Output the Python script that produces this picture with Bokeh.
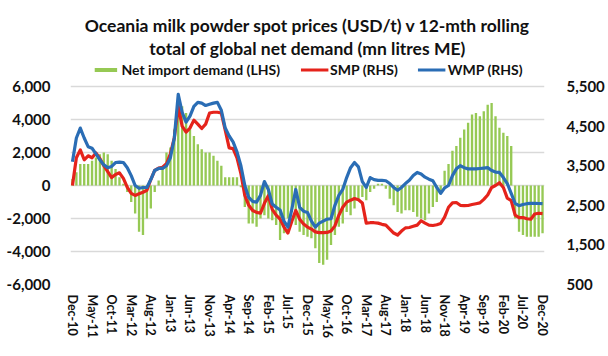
from bokeh.plotting import figure
from bokeh.models import (Range1d, LinearAxis, FixedTicker, NumeralTickFormatter,
                          Legend, LegendItem, Title, ColumnDataSource)
from bokeh.embed import file_html
from bokeh.resources import INLINE

# ---- data (monthly, Dec-10 .. Dec-20) ----
net_import_demand = [
    400, 800, 1300, 1300, 1300, 1500, 1700, 1900, 2000, 1900,
    1500, 1000, 500, 100, -400, -1000, -1700, -2800, -3000, -2000,
    -1400, -400, 300, 1000, 2000, 2300, 3400, 4500, 4800, 4400,
    3400, 3000, 2500, 2200, 2000, 2000, 1800, 1500, 1200, 500,
    500, 500, 500, -100, -1300, -2300, -2300, -2500, -2000, -1800,
    -2000, -2100, -2400, -3300, -2900, -2000, -1600, -2400, -2800, -3000,
    -3100, -3200, -3800, -4700, -4800, -4500, -3600, -3000, -2500, -2300,
    -1600, -1800, -1400, -900, -700, -900, -400, -200, 100, 100,
    -200, -800, -1200, -1600, -1700, -1500, -1500, -1600, -1900, -2000,
    -2100, -1700, -1300, -1000, -500, 900, 1300, 2100, 2400, 2900,
    3400, 3800, 4300, 4400, 4200, 4500, 4900, 5000, 4200, 3500,
    3200, 3000, 2400, -2000, -2800, -3000, -3100, -3100, -3100, -3100,
    -2900,
]
wmp = [
    3600, 4200, 4450, 4200, 3980, 3940, 3800, 3650, 3520, 3450,
    3480, 3580, 3590, 3580, 3450, 3250, 3000, 2930, 2950, 2950,
    3150, 3380, 3430, 3430, 3500, 3700, 4200, 5300, 4850, 4600,
    4750, 5000, 5100, 5080, 5020, 5050, 5080, 5100, 4900, 4450,
    4250, 4100, 3850, 3500, 3000, 2700, 2600, 2580, 2750, 3100,
    2900, 2530, 2450, 2380, 2100, 1950, 2400, 2900, 2450, 2350,
    2320, 2100, 1950, 2050, 2100, 2150, 2160, 2500, 2750, 2900,
    3200, 3450, 3580, 3470, 3100, 2950, 3200, 3150, 3130, 3130,
    3120, 3050, 2950, 2880, 2950, 3050, 3130, 3250, 3330, 3290,
    3210, 3160, 3120, 2950, 2800, 2940, 3000, 3250, 3420, 3500,
    3450, 3420, 3420, 3420, 3430, 3440, 3450, 3380, 3340, 3330,
    3200, 3050, 2800, 2550, 2490, 2520, 2540, 2550, 2550, 2545,
    2540,
]
smp = [
    3000, 3700, 3900, 3650, 3750, 3700, 3820, 3680, 3500, 3350,
    3200, 3280, 3320, 3180, 2950, 2800, 2750, 2790, 2830, 2880,
    3150, 3380, 3440, 3460, 3550, 3800, 4200, 5000, 4500, 4350,
    4450, 4650, 4550, 4440, 4550, 4830, 4850, 4850, 4830, 4400,
    3950, 3930, 3700, 3300, 2750, 2500, 2370, 2320, 2300, 2550,
    2740, 2400, 2250, 2150, 1950, 1800, 2100, 2370, 2150, 2030,
    1950, 1900, 1830, 1810, 1810, 1815, 1850, 1980, 2250, 2450,
    2580, 2630, 2670, 2640, 2560, 2050, 2060, 2060, 2050, 2020,
    2000, 1900, 1800, 1750, 1850, 1930, 1940, 1970, 2000, 2110,
    2050, 2000, 1990, 2010, 2040, 2200, 2450, 2560, 2570, 2500,
    2490, 2495, 2520, 2540, 2560, 2650, 2760, 2950, 3000, 3070,
    2950, 2680, 2620, 2250, 2190, 2190, 2160, 2150, 2280, 2300,
    2290,
]
tick_labels = ["Dec-10", "May-11", "Oct-11", "Mar-12", "Aug-12", "Jan-13", "Jun-13",
               "Nov-13", "Apr-14", "Sep-14", "Feb-15", "Jul-15", "Dec-15", "May-16",
               "Oct-16", "Mar-17", "Aug-17", "Jan-18", "Jun-18", "Nov-18", "Apr-19",
               "Sep-19", "Feb-20", "Jul-20", "Dec-20"]
left_ticks = [-6000, -4000, -2000, 0, 2000, 4000, 6000]
right_ticks = [500, 1500, 2500, 3500, 4500, 5500]

x = list(range(len(net_import_demand)))
tick_pos = [i * 5 for i in range(len(tick_labels))]

FONT = "Lato"
GREEN = "#96C954"
RED = "#E5231B"
BLUE = "#2A6DB5"
TXT = "#111111"

# layout: gridded area spans 198 px; frame extends 28 px above it for the legend
GRID_PX = 198.0
EXTRA_PX = 28.0
left_top = 6000 + EXTRA_PX * 12000 / GRID_PX
right_top = 5500 + EXTRA_PX * 5000 / GRID_PX

src = ColumnDataSource(dict(x=x, nid=net_import_demand, smp=smp, wmp=wmp))

p = figure(width=608, height=356, output_backend="svg", toolbar_location=None,
           x_range=Range1d(-0.5, 120.5), y_range=Range1d(-6000, left_top),
           min_border_left=70, min_border_right=64, min_border_bottom=72,
           min_border_top=58)
p.outline_line_color = None
p.background_fill_color = "white"
p.border_fill_color = "white"
p.extra_y_ranges = {"right": Range1d(500, right_top)}

bars = p.vbar(x="x", top="nid", bottom=0, width=0.6, source=src,
              fill_color=GREEN, line_color=None)
r_smp = p.line("x", "smp", source=src, y_range_name="right",
               line_color=RED, line_width=3.2, line_join="round")
r_wmp = p.line("x", "wmp", source=src, y_range_name="right",
               line_color=BLUE, line_width=3.2, line_join="round")

# axes
xa = p.xaxis[0]
xa.ticker = FixedTicker(ticks=tick_pos)
xa.major_label_overrides = {pos: lab for pos, lab in zip(tick_pos, tick_labels)}
xa.major_label_orientation = "vertical"
xa.axis_line_color = None
xa.major_tick_line_color = None
xa.minor_tick_line_color = None
xa.major_label_text_font = FONT
xa.major_label_text_font_style = "bold"
xa.major_label_text_font_size = "12.5px"
xa.major_label_text_color = TXT
xa.major_label_standoff = 4

ya = p.yaxis[0]
ya.ticker = FixedTicker(ticks=left_ticks)
ya.formatter = NumeralTickFormatter(format="0,0")
ya.axis_line_color = None
ya.major_tick_line_color = None
ya.minor_tick_line_color = None
ya.major_label_text_font = FONT
ya.major_label_text_font_style = "bold"
ya.major_label_text_font_size = "15px"
ya.major_label_text_color = TXT
ya.major_label_standoff = 14

ra = LinearAxis(y_range_name="right", ticker=FixedTicker(ticks=right_ticks),
                formatter=NumeralTickFormatter(format="0,0"))
ra.axis_line_color = None
ra.major_tick_line_color = None
ra.minor_tick_line_color = None
ra.major_label_text_font = FONT
ra.major_label_text_font_style = "bold"
ra.major_label_text_font_size = "15px"
ra.major_label_text_color = TXT
ra.major_label_standoff = 16
p.add_layout(ra, "right")

p.xgrid.grid_line_color = None
p.ygrid.ticker = FixedTicker(ticks=left_ticks)
p.ygrid.grid_line_color = "#D9D9D9"
p.ygrid.grid_line_width = 1.5

legend = Legend(items=[LegendItem(label="Net import demand (LHS)", renderers=[bars]),
                       LegendItem(label="SMP (RHS)", renderers=[r_smp]),
                       LegendItem(label="WMP (RHS)", renderers=[r_wmp])],
                orientation="horizontal", location="top_center",
                label_text_font=FONT, label_text_font_style="bold",
                label_text_font_size="14px", label_text_color=TXT,
                glyph_width=28, glyph_height=5, label_standoff=2, spacing=20,
                padding=0, margin=3, border_line_color=None,
                background_fill_alpha=0)
p.add_layout(legend, "center")

t2 = Title(text="total of global net demand (mn litres ME)", align="center",
           text_font=FONT, text_font_style="bold", text_font_size="17.5px",
           text_color=TXT, standoff=0, offset=0)
t1 = Title(text="Oceania milk powder spot prices (USD/t) v 12-mth rolling",
           align="center", text_font=FONT, text_font_style="bold",
           text_font_size="17.5px", text_color=TXT, standoff=0, offset=0)
p.title = None
p.add_layout(t2, "above")
p.add_layout(t1, "above")

open("out.html", "w").write(file_html(p, INLINE))
